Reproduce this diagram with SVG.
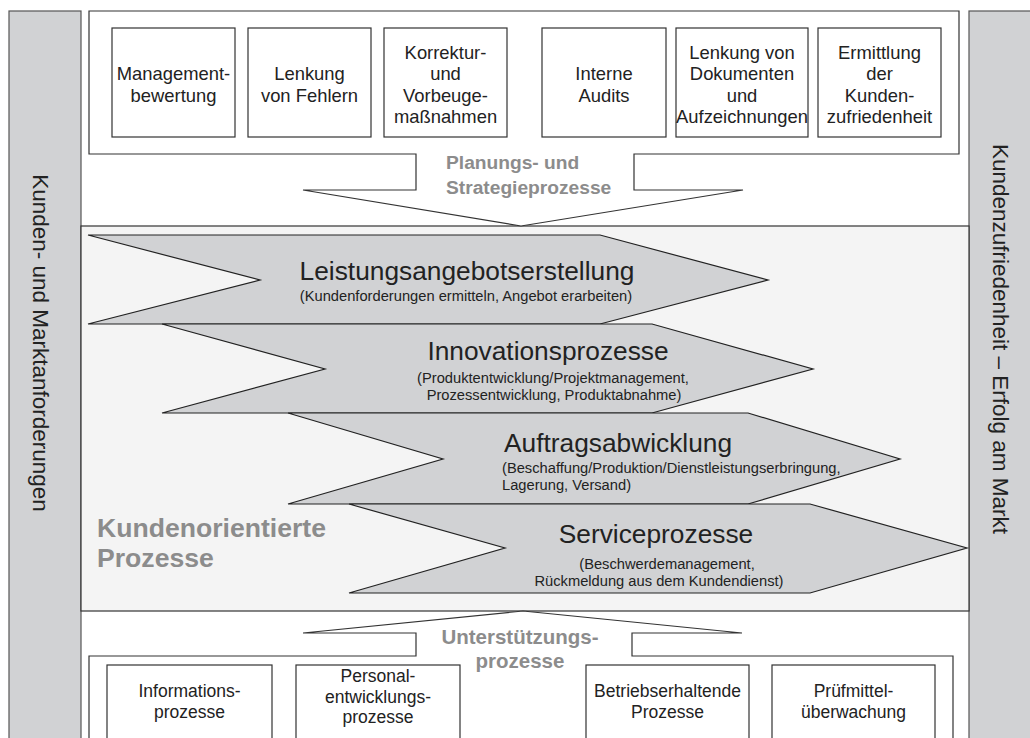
<svg xmlns="http://www.w3.org/2000/svg" width="1030" height="738" viewBox="0 0 1030 738">
<style>
text{font-family:"Liberation Sans",Arial,sans-serif;fill:#222}
.bar{fill:#d1d2d4;stroke:#555;stroke-width:1.2}
.box{fill:#fff;stroke:#333;stroke-width:1.2}
.frame{fill:#fff;stroke:#333;stroke-width:1.2}
.chev{fill:#d1d2d4;stroke:#222;stroke-width:1.2}
.bt{font-size:18.4px;text-anchor:middle}
.bb{font-size:17.5px;text-anchor:middle}
.gl{font-weight:bold;fill:#8c8c8c}
.side{font-size:22.5px;text-anchor:middle}
.ct{font-size:26.3px}
.cs{font-size:14.7px}
</style>
<rect width="1030" height="738" fill="#fff"/>
<g id="left-bar"><rect class="bar" x="9" y="11" width="72" height="740"/><text class="side" transform="translate(33,343) rotate(90)">Kunden- und Marktanforderungen</text></g>
<g id="right-bar"><rect class="bar" x="969" y="11" width="72" height="740"/><text class="side" transform="translate(993,339) rotate(90)">Kundenzufriedenheit – Erfolg am Markt</text></g>
<g id="core-area"><rect x="81" y="226" width="888" height="385" fill="#f4f4f4" stroke="#333" stroke-width="1.2"/></g>
<g id="connectors">
<polygon class="frame" points="89,11 959,11 959,154 634,154 634,190 743,190 521,226 303,190 416,190 416,154 89,154"/>
<polygon class="frame" points="89,745 89,656 416,656 416,633 303,633 523,611 742,633 632,633 632,656 953,656 953,745"/>
</g>
<g id="planung-label"><text class="gl" font-size="19.2" x="446" y="169">Planungs- und</text><text class="gl" font-size="19.2" x="446" y="194">Strategieprozesse</text></g>
<g id="unterstuetzung-label"><text class="gl" font-size="20.5" x="520" y="644" text-anchor="middle">Unterstützungs-</text><text class="gl" font-size="20.5" x="520" y="668" text-anchor="middle">prozesse</text></g>
<g id="kunden-label"><text class="gl" font-size="26.6" x="97" y="537">Kundenorientierte</text><text class="gl" font-size="26.6" x="97" y="567">Prozesse</text></g>
<g id="box-management"><rect class="box" x="112" y="28" width="123" height="109"/><text class="bt" x="173.5" y="80">Management-</text><text class="bt" x="173.5" y="101.5">bewertung</text></g>
<g id="box-fehler"><rect class="box" x="248" y="28" width="123" height="109"/><text class="bt" x="309.5" y="80">Lenkung</text><text class="bt" x="309.5" y="101.5">von Fehlern</text></g>
<g id="box-korrektur"><rect class="box" x="384" y="28" width="123" height="109"/><text class="bt" x="445.5" y="58.5">Korrektur-</text><text class="bt" x="445.5" y="80">und</text><text class="bt" x="445.5" y="101.5">Vorbeuge-</text><text class="bt" x="445.5" y="123">maßnahmen</text></g>
<g id="box-audits"><rect class="box" x="542" y="28" width="124" height="109"/><text class="bt" x="604" y="80">Interne</text><text class="bt" x="604" y="101.5">Audits</text></g>
<g id="box-dokumente"><rect class="box" x="676" y="28" width="132" height="109"/><text class="bt" x="742" y="58.5">Lenkung von</text><text class="bt" x="742" y="80">Dokumenten</text><text class="bt" x="742" y="101.5">und</text><text class="bt" x="742" y="123">Aufzeichnungen</text></g>
<g id="box-ermittlung"><rect class="box" x="818" y="28" width="123" height="109"/><text class="bt" x="879.5" y="58.5">Ermittlung</text><text class="bt" x="879.5" y="80">der</text><text class="bt" x="879.5" y="101.5">Kunden-</text><text class="bt" x="879.5" y="123">zufriedenheit</text></g>
<g id="chev-leistung"><polygon class="chev" points="88,235 600,235 768,280 600,324 88,324 260,280"/><text class="ct" x="467" y="280" text-anchor="middle">Leistungsangebotserstellung</text><text class="cs" x="466" y="301" text-anchor="middle">(Kundenforderungen ermitteln, Angebot erarbeiten)</text></g>
<g id="chev-innovation"><polygon class="chev" points="162,324 652,324 813,369 652,413 162,413 325,369"/><text class="ct" x="548" y="360" text-anchor="middle">Innovationsprozesse</text><text class="cs" x="553" y="383" text-anchor="middle">(Produktentwicklung/Projektmanagement,</text><text class="cs" x="554" y="400" text-anchor="middle">Prozessentwicklung, Produktabnahme)</text></g>
<g id="chev-auftrag"><polygon class="chev" points="288,413 748,413 900,459 748,504 288,504 443,459"/><text class="ct" x="504" y="452">Auftragsabwicklung</text><text class="cs" x="502" y="473">(Beschaffung/Produktion/Dienstleistungserbringung,</text><text class="cs" x="502" y="490">Lagerung, Versand)</text></g>
<g id="chev-service"><polygon class="chev" points="349,504 810,504 967,548 810,593 349,593 505,548"/><text class="ct" x="656" y="543" text-anchor="middle">Serviceprozesse</text><text class="cs" x="667" y="569" text-anchor="middle">(Beschwerdemanagement,</text><text class="cs" x="659" y="586" text-anchor="middle">Rückmeldung aus dem Kundendienst)</text></g>
<g id="box-information"><rect class="box" x="107" y="665" width="165" height="80"/><text class="bb" x="189.5" y="697">Informations-</text><text class="bb" x="189.5" y="718">prozesse</text></g>
<g id="box-personal"><rect class="box" x="296" y="665" width="164" height="80"/><text class="bb" x="378" y="682">Personal-</text><text class="bb" x="378" y="702.5">entwicklungs-</text><text class="bb" x="378" y="723">prozesse</text></g>
<g id="box-betrieb"><rect class="box" x="586" y="665" width="163" height="80"/><text class="bb" x="667.5" y="697">Betriebserhaltende</text><text class="bb" x="667.5" y="718">Prozesse</text></g>
<g id="box-pruefmittel"><rect class="box" x="772" y="665" width="163" height="80"/><text class="bb" x="853.5" y="697">Prüfmittel-</text><text class="bb" x="853.5" y="718">überwachung</text></g>
</svg>
